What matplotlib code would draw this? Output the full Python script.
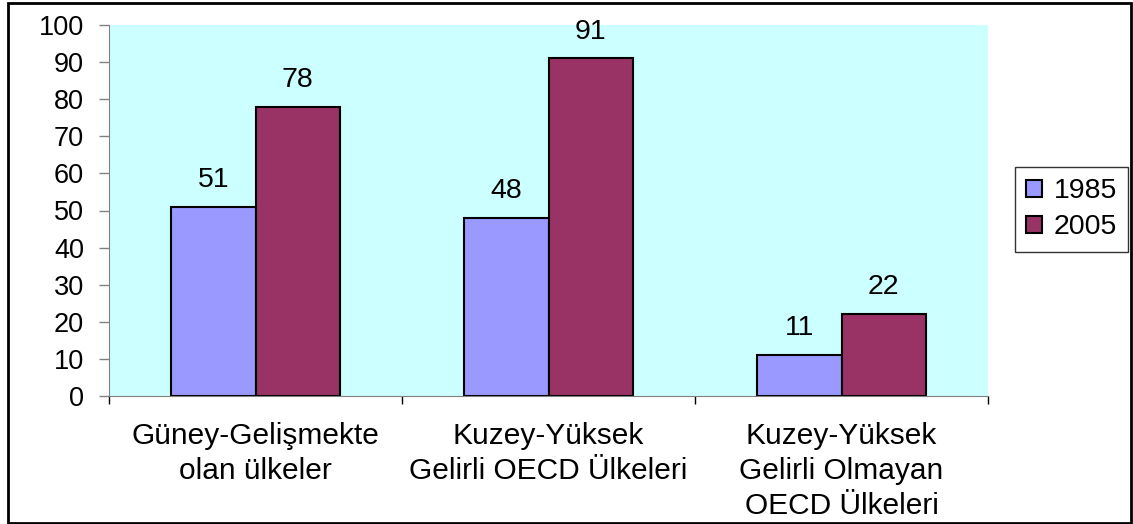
import numpy as np
import matplotlib.pyplot as plt
from matplotlib.patches import Rectangle

plt.rcParams['font.family'] = ['Liberation Sans', 'DejaVu Sans']

kategoriler = ["Güney-Gelişmekte\nolan ülkeler",
               "Kuzey-Yüksek\nGelirli OECD Ülkeleri",
               "Kuzey-Yüksek\nGelirli Olmayan\nOECD Ülkeleri"]
yillar = ["1985", "2005"]
degerler_1985 = [51, 48, 11]
degerler_2005 = [78, 91, 22]
renkler = ["#9999FF", "#993366"]

W, H = 1133, 524
fig = plt.figure(figsize=(W / 100, H / 100), dpi=100)
ax = fig.add_axes([109 / W, 1 - 396 / H, 879 / W, 371 / H])
ax.set_facecolor("#CCFFFF")

x = np.arange(len(kategoriler))
gen = 0.287
b1 = ax.bar(x - gen / 2, degerler_1985, gen, color=renkler[0],
            edgecolor="black", linewidth=1.5, label=yillar[0])
b2 = ax.bar(x + gen / 2, degerler_2005, gen, color=renkler[1],
            edgecolor="black", linewidth=1.5, label=yillar[1])

for bars in (b1, b2):
    for b in bars:
        ax.annotate(str(int(b.get_height())),
                    (b.get_x() + b.get_width() / 2, b.get_height()),
                    xytext=(0, 10), textcoords="offset points",
                    ha="center", va="bottom", fontsize=20.5)

ax.set_xlim(-0.5, 2.5)
ax.set_ylim(0, 100)
ax.set_yticks(range(0, 101, 10))
ax.tick_params(axis="y", labelsize=19.5, length=7, width=1, color="#808080",
               pad=11, direction="out")

# kategori sınırlarında işaretler, etiketler ortada
ax.set_xticks([-0.5, 0.5, 1.5, 2.5])
ax.set_xticklabels([])
ax.tick_params(axis="x", length=6, width=1, color="black", direction="out")
for i, k in enumerate(kategoriler):
    ax.text(i, -7.0, k, ha="center", va="top", fontsize=21.5, linespacing=1.33)

for s in ["top", "right"]:
    ax.spines[s].set_visible(False)
ax.spines["left"].set_color("#808080")
ax.spines["bottom"].set_color("#808080")

leg = fig.legend(loc="upper left", bbox_to_anchor=(1015 / W, 1 - 167 / H),
                 fontsize=20.5, frameon=True, fancybox=False, edgecolor="black",
                 handlelength=0.55, handleheight=0.55, handletextpad=0.4,
                 borderpad=0.4, labelspacing=0.35, borderaxespad=0)
leg.get_frame().set_linewidth(1)
for h in leg.legend_handles:
    h.set_linewidth(1.5)

# dış çerçeve
fig.patches.append(Rectangle((8 / W, 1 / H), (1131 - 8) / W, (521 - 1) / H,
                             transform=fig.transFigure, fill=False,
                             edgecolor="black", linewidth=2))

plt.savefig("out.png", dpi=100)
